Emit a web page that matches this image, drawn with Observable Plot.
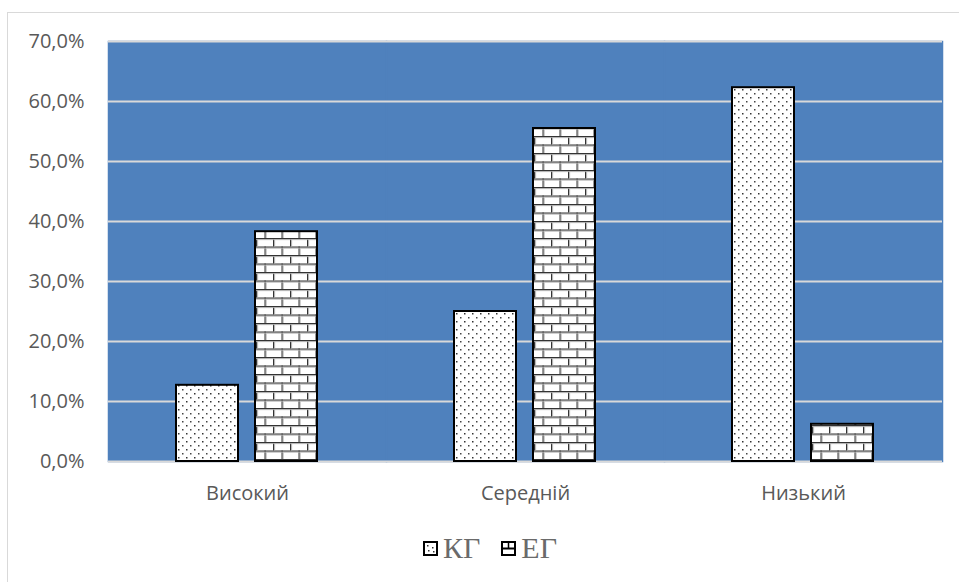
<!DOCTYPE html>
<html>
<head>
<meta charset="utf-8">
<script src="https://cdn.jsdelivr.net/npm/d3@7"></script>
<script src="https://cdn.jsdelivr.net/npm/@observablehq/plot@0.6"></script>
<style>
  html, body { margin: 0; padding: 0; background: #fff; overflow: hidden; }
  #page { position: relative; width: 959px; height: 582px; overflow: hidden; }
  #border { position: absolute; left: 7px; top: 12px; width: 1000px; height: 620px; border: 1px solid #d9d9d9; box-sizing: border-box; }
  #chart { position: absolute; left: 0; top: 0; }
  #legend { position: absolute; left: 423px; top: 531px; display: flex; align-items: center;
            font-family: "Liberation Serif", "DejaVu Serif", serif; font-size: 30px; color: #6a6a6a; }
  #legend .item { display: flex; align-items: center; margin-right: 21px; }
  #legend svg { display: block; margin-right: 5px; }
</style>
</head>
<body>
<div id="page">
  <div id="border"></div>
  <div id="chart"></div>
  <div id="legend"></div>
</div>
<script>
// Share of students at each level, per group (percent)
const categories = ["Високий", "Середній", "Низький"];
const groups = ["КГ", "ЕГ"];
const kgValues = [12.7, 25.0, 62.3];
const egValues = [38.3, 55.5, 6.2];
const yTicks = [0, 10, 20, 30, 40, 50, 60, 70];

const patternIds = {"КГ": "dots", "ЕГ": "bricks"};

const data = categories.flatMap((category, i) => [
  {category, group: groups[0], value: kgValues[i]},
  {category, group: groups[1], value: egValues[i]}
]);

const fmt = v => v.toFixed(1).replace(".", ",") + "%";

const chart = Plot.plot({
  width: 959,
  height: 515,
  marginLeft: 107,
  marginRight: 16,
  marginTop: 41,
  marginBottom: 54,
  style: {fontFamily: "'Open Sans', sans-serif", fontSize: "20px", color: "#595959", background: "transparent"},
  fx: {domain: categories, padding: 0, label: null, axis: "bottom", tickSize: 0, tickPadding: 24},
  x: {domain: groups, axis: null, paddingInner: 0.2125, paddingOuter: 0.848},
  y: {domain: [0, 70], ticks: yTicks, tickSize: 0, tickPadding: 24, label: null, tickFormat: fmt},
  color: {domain: groups, range: groups.map(g => `url(#${patternIds[g]})`)},
  marks: [
    Plot.frame({fill: "#4f81bd", stroke: "#4f81bd", strokeWidth: 1.5}),
    Plot.ruleY(yTicks.filter(v => v > 0), {stroke: "#d9d9d9", strokeWidth: 2}),
    Plot.ruleY([0], {stroke: "#d9d9d9", strokeWidth: 2}),
    Plot.barY(data, {fx: "category", x: "group", y: "value", fill: "group", stroke: "#000", strokeWidth: 2})
  ]
});

// Fill patterns: stippled dots and brickwork
const defs = d3.select(chart).insert("defs", ":first-child");

const dots = defs.append("pattern").attr("id", "dots")
  .attr("patternUnits", "userSpaceOnUse").attr("width", 8).attr("height", 8);
dots.append("rect").attr("width", 8).attr("height", 8).attr("fill", "#fff");
dots.append("rect").attr("x", 1).attr("y", 1).attr("width", 1.5).attr("height", 1.5).attr("fill", "#333");
dots.append("rect").attr("x", 5).attr("y", 5).attr("width", 1.5).attr("height", 1.5).attr("fill", "#444");

const bricks = defs.append("pattern").attr("id", "bricks")
  .attr("patternUnits", "userSpaceOnUse").attr("width", 17).attr("height", 17);
bricks.append("rect").attr("width", 17).attr("height", 17).attr("fill", "#fff");
[[0, 0, 17, 1.2], [0, 8.5, 17, 1.2], [0, 0, 1.2, 8.5], [8.5, 8.5, 1.2, 8.5]].forEach(([x, y, w, h]) => {
  bricks.append("rect").attr("x", x).attr("y", y).attr("width", w).attr("height", h).attr("fill", "#333");
});
[[0, 1.2, 17, 0.9], [0, 9.7, 17, 0.9], [1.2, 2.1, 0.9, 6.4], [9.7, 10.6, 0.9, 6.4]].forEach(([x, y, w, h]) => {
  bricks.append("rect").attr("x", x).attr("y", y).attr("width", w).attr("height", h).attr("fill", "#b0b0b0");
});

document.getElementById("chart").appendChild(chart);

// Legend
const legend = d3.select("#legend");
groups.forEach(g => {
  const item = legend.append("div").attr("class", "item");
  const sw = item.append("svg").attr("width", 15).attr("height", 15);
  sw.append("rect").attr("x", 1).attr("y", 1).attr("width", 13).attr("height", 13)
    .attr("fill", "#fff").attr("stroke", "#000").attr("stroke-width", 2);
  if (patternIds[g] === "dots") {
    [[4, 4], [9, 6], [5, 9], [10, 10]].forEach(([x, y]) =>
      sw.append("rect").attr("x", x).attr("y", y).attr("width", 1.5).attr("height", 1.5).attr("fill", "#333"));
  } else {
    sw.append("line").attr("x1", 1).attr("x2", 14).attr("y1", 7.5).attr("y2", 7.5).attr("stroke", "#000").attr("stroke-width", 2);
    sw.append("line").attr("x1", 7.5).attr("x2", 7.5).attr("y1", 1).attr("y2", 7.5).attr("stroke", "#000").attr("stroke-width", 1.5);
  }
  item.append("span").text(g);
});
</script>
</body>
</html>
